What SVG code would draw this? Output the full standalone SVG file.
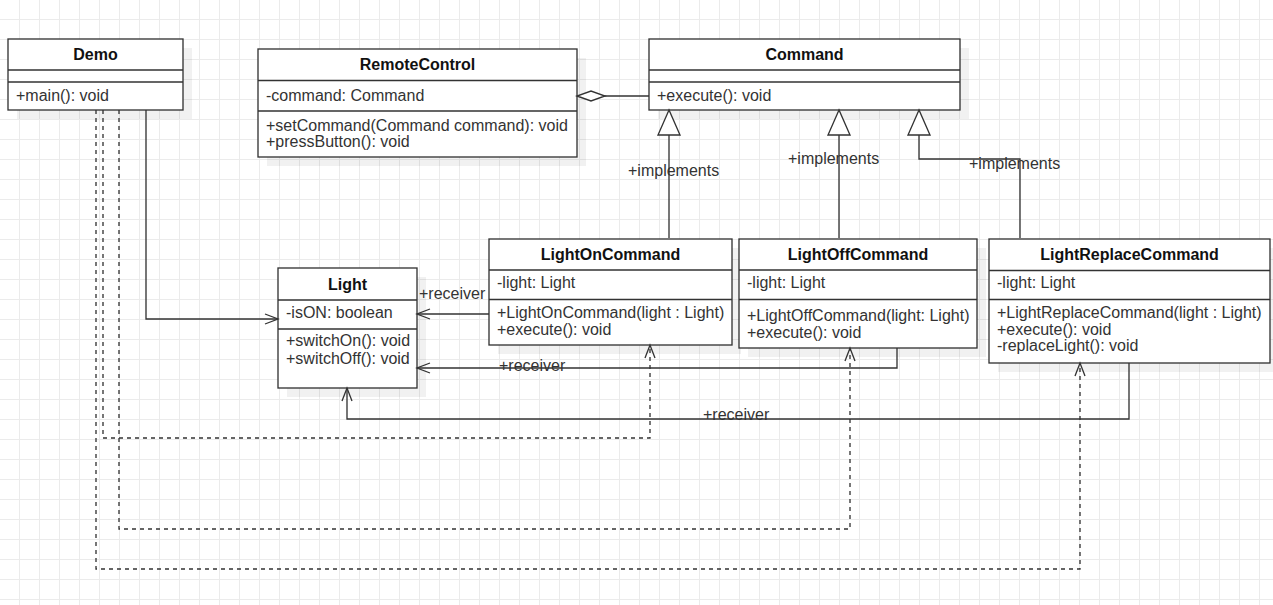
<svg xmlns="http://www.w3.org/2000/svg" width="1273" height="605" viewBox="0 0 1273 605">
<defs>
<pattern id="grid" x="0" y="0" width="20" height="20" patternUnits="userSpaceOnUse">
<path d="M19.5 0 V20 M0 19.5 H20" stroke="#ebebeb" stroke-width="1" fill="none"/>
</pattern>
<marker id="open" viewBox="-15 -7 17 14" refX="0" refY="0" markerWidth="17" markerHeight="14" orient="auto" markerUnits="userSpaceOnUse">
<path d="M-13 -5 L0 0 L-13 5" fill="none" stroke="#333" stroke-width="1.33" stroke-dasharray="none"/>
</marker>
<marker id="tri" viewBox="-27 -13 29 26" refX="0" refY="0" markerWidth="29" markerHeight="26" orient="auto" markerUnits="userSpaceOnUse">
<path d="M0 0 L-25 -11 L-25 11 Z" fill="#fff" stroke="#333" stroke-width="1.33"/>
</marker>
<marker id="diamond" viewBox="-30 -7 32 14" refX="0" refY="0" markerWidth="32" markerHeight="14" orient="auto" markerUnits="userSpaceOnUse">
<path d="M0 0 L-14 -5 L-28 0 L-14 5 Z" fill="#fff" stroke="#333" stroke-width="1.33"/>
</marker>
</defs>
<style>
.box{fill:#fff;stroke:#333;stroke-width:1.33}
.sh{fill:#000;opacity:0.055}
.sep{stroke:#333;stroke-width:1.33;fill:none}
.hd{font-family:"Liberation Sans",Arial,sans-serif;font-size:16px;font-weight:bold;fill:#111;text-anchor:middle}
.mb{font-family:"Liberation Sans",Arial,sans-serif;font-size:16px;fill:#333}
.lbl{font-family:"Liberation Sans",Arial,sans-serif;font-size:16px;fill:#333}
.ln{fill:none;stroke:#333;stroke-width:1.33}
.dash{fill:none;stroke:#333;stroke-width:1.33;stroke-dasharray:4 4}
</style>
<rect width="1273" height="605" fill="#fff"/>
<rect width="1273" height="605" fill="url(#grid)"/>

<g id="Demo">
<rect class="sh" x="17" y="48" width="175" height="71"/>
<rect class="box" x="8" y="39" width="175" height="71"/>
<path class="sep" d="M8 70 H183 M8 82 H183"/>
<text class="hd" x="95.5" y="59.5">Demo</text>
<text class="mb" x="16" y="101">+main(): void</text>
</g>

<g id="RemoteControl">
<rect class="sh" x="267" y="58" width="319" height="108"/>
<rect class="box" x="258" y="49" width="319" height="108"/>
<path class="sep" d="M258 80.5 H577 M258 111 H577"/>
<text class="hd" x="417.5" y="69.5">RemoteControl</text>
<text class="mb" x="266" y="101">-command: Command</text>
<text class="mb" x="266" y="130.5">+setCommand(Command command): void</text>
<text class="mb" x="266" y="147">+pressButton(): void</text>
</g>

<g id="Command">
<rect class="sh" x="658" y="48" width="311" height="71"/>
<rect class="box" x="649" y="39" width="311" height="71"/>
<path class="sep" d="M649 70 H960 M649 82 H960"/>
<text class="hd" x="804.5" y="59.5">Command</text>
<text class="mb" x="657" y="101">+execute(): void</text>
</g>

<g id="Light">
<rect class="sh" x="287" y="277" width="139" height="120"/>
<rect class="box" x="278" y="268" width="139" height="120"/>
<path class="sep" d="M278 300 H417 M278 329 H417"/>
<text class="hd" x="347.5" y="290">Light</text>
<text class="mb" x="286" y="317.5">-isON: boolean</text>
<text class="mb" x="286" y="346">+switchOn(): void</text>
<text class="mb" x="286" y="363.5">+switchOff(): void</text>
</g>

<g id="LightOnCommand">
<rect class="sh" x="498" y="248" width="243" height="106"/>
<rect class="box" x="489" y="239" width="243" height="106"/>
<path class="sep" d="M489 270 H732 M489 299.5 H732"/>
<text class="hd" x="610.5" y="260">LightOnCommand</text>
<text class="mb" x="497" y="287.5">-light: Light</text>
<text class="mb" x="497" y="318">+LightOnCommand(light : Light)</text>
<text class="mb" x="497" y="334.5">+execute(): void</text>
</g>

<g id="LightOffCommand">
<rect class="sh" x="748" y="248" width="238" height="109"/>
<rect class="box" x="739" y="239" width="238" height="109"/>
<path class="sep" d="M739 270 H977 M739 299.5 H977"/>
<text class="hd" x="858" y="260">LightOffCommand</text>
<text class="mb" x="747" y="287.5">-light: Light</text>
<text class="mb" x="747" y="321">+LightOffCommand(light: Light)</text>
<text class="mb" x="747" y="337.5">+execute(): void</text>
</g>

<g id="LightReplaceCommand">
<rect class="sh" x="998" y="248" width="281" height="124"/>
<rect class="box" x="989" y="239" width="281" height="124"/>
<path class="sep" d="M989 270.5 H1270 M989 299.5 H1270"/>
<text class="hd" x="1129.5" y="260">LightReplaceCommand</text>
<text class="mb" x="997" y="287.5">-light: Light</text>
<text class="mb" x="997" y="318">+LightReplaceCommand(light : Light)</text>
<text class="mb" x="997" y="334.5">+execute(): void</text>
<text class="mb" x="997" y="351">-replaceLight(): void</text>
</g>

<g id="connectors">
<path class="ln" d="M649 96 L577 96" marker-end="url(#diamond)"/>
<path class="ln" d="M669 238 L669 110" marker-end="url(#tri)"/>
<path class="ln" d="M839 238 L839 110" marker-end="url(#tri)"/>
<path class="ln" d="M1020 238 L1020 159 L919 159 L919 110" marker-end="url(#tri)"/>
<path class="ln" d="M146 110 L146 319 L278 319" marker-end="url(#open)"/>
<path class="ln" d="M489 314 L417 314" marker-end="url(#open)"/>
<path class="ln" d="M897 348 L897 368 L417 368" marker-end="url(#open)"/>
<path class="ln" d="M1129 363 L1129 419 L347 419 L347 388" marker-end="url(#open)"/>
<path class="dash" d="M103 110 L103 438 L650 438 L650 345" marker-end="url(#open)"/>
<path class="dash" d="M119 110 L119 529 L850 529 L850 348" marker-end="url(#open)"/>
<path class="dash" d="M96 110 L96 569 L1080 569 L1080 363" marker-end="url(#open)"/>
<text class="lbl" x="628" y="176">+implements</text>
<text class="lbl" x="788" y="164">+implements</text>
<text class="lbl" x="969" y="169">+implements</text>
<text class="lbl" x="419" y="299">+receiver</text>
<text class="lbl" x="499" y="371">+receiver</text>
<text class="lbl" x="703" y="420">+receiver</text>
</g>
</svg>
